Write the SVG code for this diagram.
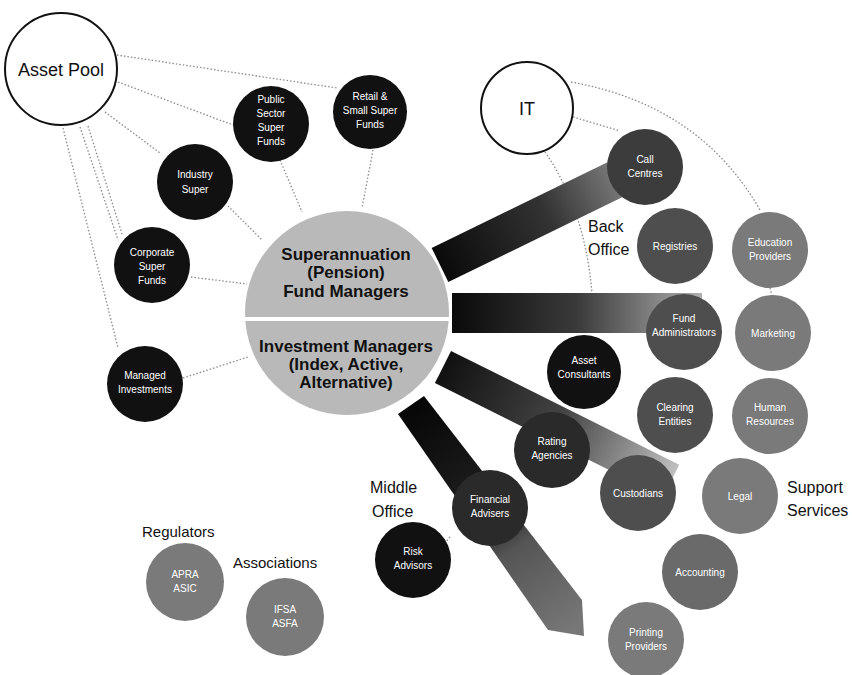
<svg xmlns="http://www.w3.org/2000/svg" width="852" height="675" viewBox="0 0 852 675">
<style>
.dot{fill:none;stroke:#8a8a8a;stroke-width:1.3;stroke-dasharray:1.5 2}
.open{fill:#fff;stroke:#111;stroke-width:2}
.blk{fill:#111}
.dk{fill:#2a2a2a}
.md{fill:#4e4e4e}
.lt{fill:#7a7a7a}
.nl{font-family:"Liberation Sans",Arial,sans-serif;font-size:10px;fill:#fff;text-anchor:middle}
.lab{font-family:"Liberation Sans",Arial,sans-serif;font-size:16px;fill:#111}
.big{font-family:"Liberation Sans",Arial,sans-serif;font-size:18px;fill:#111;text-anchor:middle}
.ctr{font-family:"Liberation Sans",Arial,sans-serif;font-size:17px;font-weight:bold;fill:#111;text-anchor:middle}
</style>
<defs>
<linearGradient id="g1" x1="0" y1="0" x2="1" y2="0"><stop offset="0" stop-color="#0a0a0a"/><stop offset="0.55" stop-color="#333"/><stop offset="1" stop-color="#888"/></linearGradient>
<linearGradient id="g2" x1="0" y1="0" x2="1" y2="0"><stop offset="0" stop-color="#0a0a0a"/><stop offset="0.5" stop-color="#3a3a3a"/><stop offset="1" stop-color="#b0b0b0"/></linearGradient>
<linearGradient id="g3" x1="0" y1="0" x2="1" y2="0"><stop offset="0" stop-color="#111"/><stop offset="0.5" stop-color="#444"/><stop offset="1" stop-color="#c0c0c0"/></linearGradient>
<linearGradient id="g4" gradientUnits="userSpaceOnUse" x1="410" y1="400" x2="570" y2="630"><stop offset="0" stop-color="#050505"/><stop offset="0.5" stop-color="#222"/><stop offset="0.65" stop-color="#555"/><stop offset="1" stop-color="#777"/></linearGradient>
</defs>

<g id="connectors">
<path class="dot" d="M117 55 L337 88"/>
<path class="dot" d="M118 82 L233 125"/>
<path class="dot" d="M105 112 L160 153"/>
<path class="dot" d="M63 128 L118 348"/>
<path class="dot" d="M80 127 L118 240"/>
<path class="dot" d="M88 126 L122 234"/>
<path class="dot" d="M280 160 L302 212"/>
<path class="dot" d="M373 150 L362 208"/>
<path class="dot" d="M228 206 L262 240"/>
<path class="dot" d="M191 277 L247 284"/>
<path class="dot" d="M183 378 L248 357"/>
<path class="dot" d="M571 82 Q700 105 760 210"/>
<path class="dot" d="M573 117 L620 131"/>
<path class="dot" d="M545 152 Q585 210 592 293"/>
<path class="dot" d="M770 288 L772 296"/>
<path class="dot" d="M450 537 L443 545"/>
</g>

<g id="bands">
<rect x="0" y="-19" width="215" height="38" fill="url(#g1)" transform="translate(440 265) rotate(-26)"/>
<rect x="452" y="293" width="250" height="40" fill="url(#g2)"/>
<rect x="0" y="-18" width="255" height="36" fill="url(#g3)" transform="translate(443 367) rotate(26.5)"/>
<polygon points="398,414 424,396 582,600 584,636 548,630" fill="url(#g4)"/>
</g>

<g id="central">
<circle cx="347" cy="313" r="102" fill="#b9b9b9"/>
<line x1="245" y1="319" x2="449" y2="319" stroke="#fff" stroke-width="4"/>
<text class="ctr" x="346" y="260">Superannuation</text>
<text class="ctr" x="346" y="278">(Pension)</text>
<text class="ctr" x="346" y="297">Fund Managers</text>
<text class="ctr" x="346" y="352">Investment Managers</text>
<text class="ctr" x="346" y="370">(Index, Active,</text>
<text class="ctr" x="346" y="388">Alternative)</text>
</g>

<g id="asset-pool"><circle class="open" cx="61" cy="69" r="56"/><text class="big" x="61" y="76">Asset Pool</text></g>
<g id="public-sector"><circle class="blk" cx="271" cy="124" r="38"/><text class="nl" x="271" y="103">Public</text><text class="nl" x="271" y="117">Sector</text><text class="nl" x="271" y="131">Super</text><text class="nl" x="271" y="145">Funds</text></g>
<g id="retail"><circle class="blk" cx="370" cy="112" r="37"/><text class="nl" x="370" y="100">Retail &amp;</text><text class="nl" x="370" y="114">Small Super</text><text class="nl" x="370" y="128">Funds</text></g>
<g id="industry"><circle class="blk" cx="195" cy="182" r="38"/><text class="nl" x="195" y="178">Industry</text><text class="nl" x="195" y="193">Super</text></g>
<g id="corporate"><circle class="blk" cx="152" cy="265" r="38"/><text class="nl" x="152" y="256">Corporate</text><text class="nl" x="152" y="270">Super</text><text class="nl" x="152" y="284">Funds</text></g>
<g id="managed"><circle class="blk" cx="145" cy="384" r="38"/><text class="nl" x="145" y="379">Managed</text><text class="nl" x="145" y="393">Investments</text></g>

<g id="it"><circle class="open" cx="527" cy="108" r="46"/><text class="big" x="527" y="115">IT</text></g>
<g id="call-centres"><circle class="md" cx="645" cy="167" r="38" style="fill:#3c3c3c"/><text class="nl" x="645" y="163">Call</text><text class="nl" x="645" y="177">Centres</text></g>
<g id="registries"><circle class="md" cx="675" cy="246" r="38"/><text class="nl" x="675" y="250">Registries</text></g>
<g id="education"><circle class="lt" cx="770" cy="250" r="38"/><text class="nl" x="770" y="246">Education</text><text class="nl" x="770" y="260">Providers</text></g>
<g id="fund-admin"><circle class="md" cx="684" cy="332" r="38"/><text class="nl" x="684" y="322">Fund</text><text class="nl" x="684" y="336">Administrators</text></g>
<g id="marketing"><circle class="lt" cx="773" cy="333" r="38"/><text class="nl" x="773" y="337">Marketing</text></g>
<g id="asset-consultants"><circle class="blk" cx="584" cy="372" r="37"/><text class="nl" x="584" y="364">Asset</text><text class="nl" x="584" y="378">Consultants</text></g>
<g id="clearing"><circle class="md" cx="675" cy="415" r="38"/><text class="nl" x="675" y="411">Clearing</text><text class="nl" x="675" y="425">Entities</text></g>
<g id="human-resources"><circle class="lt" cx="770" cy="416" r="38"/><text class="nl" x="770" y="411">Human</text><text class="nl" x="770" y="425">Resources</text></g>
<g id="rating"><circle class="dk" cx="552" cy="450" r="38"/><text class="nl" x="552" y="445">Rating</text><text class="nl" x="552" y="459">Agencies</text></g>
<g id="custodians"><circle class="md" cx="638" cy="493" r="38"/><text class="nl" x="638" y="497">Custodians</text></g>
<g id="legal"><circle class="lt" cx="740" cy="496" r="38"/><text class="nl" x="740" y="500">Legal</text></g>
<g id="financial-advisers"><circle class="dk" cx="490" cy="508" r="38"/><text class="nl" x="490" y="503">Financial</text><text class="nl" x="490" y="517">Advisers</text></g>
<g id="risk-advisors"><circle class="blk" cx="413" cy="560" r="38"/><text class="nl" x="413" y="555">Risk</text><text class="nl" x="413" y="569">Advisors</text></g>
<g id="accounting"><circle class="lt" cx="700" cy="572" r="38" style="fill:#6a6a6a"/><text class="nl" x="700" y="576">Accounting</text></g>
<g id="printing"><circle class="lt" cx="646" cy="640" r="38"/><text class="nl" x="646" y="636">Printing</text><text class="nl" x="646" y="650">Providers</text></g>
<g id="apra"><circle class="lt" cx="185" cy="582" r="39"/><text class="nl" x="185" y="578">APRA</text><text class="nl" x="185" y="592">ASIC</text></g>
<g id="ifsa"><circle class="lt" cx="285" cy="617" r="39"/><text class="nl" x="285" y="613">IFSA</text><text class="nl" x="285" y="627">ASFA</text></g>

<g id="labels">
<text class="lab" x="588" y="232">Back</text>
<text class="lab" x="588" y="255">Office</text>
<text class="lab" x="370" y="493">Middle</text>
<text class="lab" x="372" y="517">Office</text>
<text class="lab" x="787" y="493">Support</text>
<text class="lab" x="787" y="516">Services</text>
<text class="lab" x="142" y="537" style="font-size:15px">Regulators</text>
<text class="lab" x="233" y="568" style="font-size:15px">Associations</text>
</g>
</svg>
